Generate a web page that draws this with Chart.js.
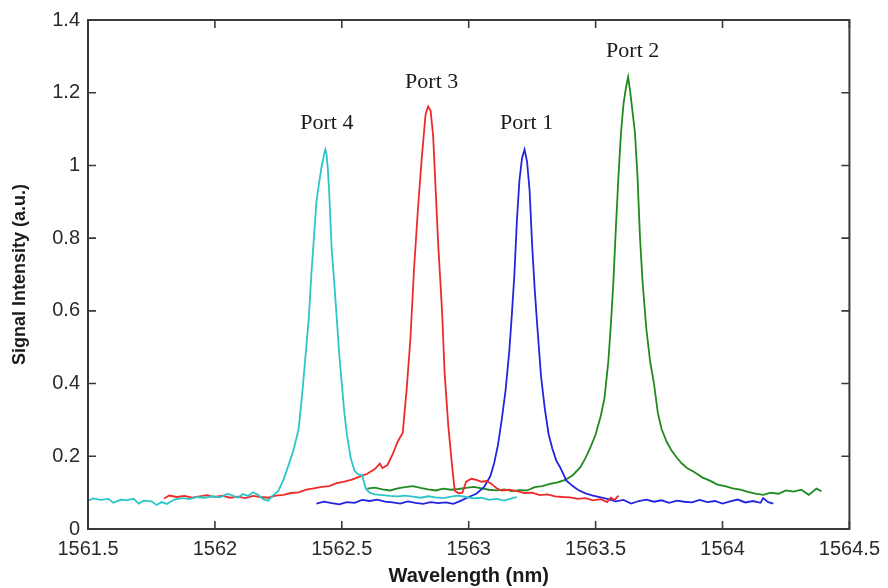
<!DOCTYPE html>
<html>
<head>
<meta charset="utf-8">
<script src="https://cdn.jsdelivr.net/npm/chart.js@4/dist/chart.umd.min.js"></script>
<style>
  html, body { margin: 0; padding: 0; background: #fff; }
  #wrap { width: 888px; height: 588px; }
</style>
</head>
<body>
<div id="wrap"><canvas id="chart" width="888" height="588"></canvas></div>
<script>
'use strict';

/* Tick values */
const xTicks = [1561.5, 1562, 1562.5, 1563, 1563.5, 1564, 1564.5];
const yTicks = [0, 0.2, 0.4, 0.6, 0.8, 1, 1.2, 1.4];

/* Port 4 (cyan) */
const port4X = [1561.50, 1561.52, 1561.55, 1561.58, 1561.60, 1561.63, 1561.65, 1561.68, 1561.70, 1561.72,
  1561.75, 1561.77, 1561.79, 1561.81, 1561.84, 1561.87, 1561.90, 1561.93, 1561.96, 1561.99,
  1562.02, 1562.05, 1562.07, 1562.09, 1562.11, 1562.13, 1562.15, 1562.17, 1562.19, 1562.21,
  1562.23, 1562.25, 1562.27, 1562.29, 1562.31, 1562.33, 1562.345, 1562.36, 1562.37, 1562.38,
  1562.39, 1562.40, 1562.41, 1562.42, 1562.43, 1562.435, 1562.44, 1562.445, 1562.45, 1562.46,
  1562.47, 1562.48, 1562.49, 1562.50, 1562.51, 1562.52, 1562.535, 1562.55, 1562.565, 1562.58,
  1562.595, 1562.61, 1562.63, 1562.66, 1562.69, 1562.72, 1562.75, 1562.78, 1562.81, 1562.84,
  1562.87, 1562.90, 1562.93, 1562.96, 1562.99, 1563.02, 1563.05, 1563.08, 1563.11, 1563.14,
  1563.17, 1563.19];
const port4Y = [0.078, 0.084, 0.080, 0.083, 0.072, 0.081, 0.079, 0.083, 0.070, 0.078,
  0.076, 0.066, 0.074, 0.069, 0.081, 0.085, 0.082, 0.088, 0.086, 0.090,
  0.087, 0.097, 0.092, 0.086, 0.096, 0.091, 0.101, 0.094, 0.082, 0.078,
  0.093, 0.105, 0.135, 0.175, 0.218, 0.275, 0.380, 0.500, 0.580, 0.700,
  0.800, 0.900, 0.950, 0.995, 1.030, 1.044, 1.030, 0.990, 0.930, 0.770,
  0.680, 0.580, 0.480, 0.400, 0.320, 0.260, 0.195, 0.160, 0.150, 0.148,
  0.110, 0.100, 0.095, 0.093, 0.091, 0.090, 0.092, 0.089, 0.086, 0.090,
  0.087, 0.085, 0.089, 0.092, 0.088, 0.084, 0.086, 0.080, 0.083, 0.078,
  0.084, 0.088];

/* Port 3 (red) */
const port3X = [1561.80, 1561.82, 1561.85, 1561.88, 1561.91, 1561.94, 1561.97, 1562.00, 1562.03, 1562.06,
  1562.09, 1562.12, 1562.15, 1562.18, 1562.21, 1562.24, 1562.27, 1562.30, 1562.33, 1562.36,
  1562.39, 1562.42, 1562.45, 1562.48, 1562.51, 1562.54, 1562.57, 1562.60, 1562.63, 1562.65,
  1562.66, 1562.68, 1562.70, 1562.72, 1562.74, 1562.755, 1562.77, 1562.785, 1562.80, 1562.815,
  1562.83, 1562.84, 1562.85, 1562.86, 1562.87, 1562.88, 1562.895, 1562.905, 1562.92, 1562.935,
  1562.945, 1562.96, 1562.975, 1562.99, 1563.01, 1563.03, 1563.05, 1563.07, 1563.09, 1563.11,
  1563.13, 1563.16, 1563.19, 1563.22, 1563.25, 1563.28, 1563.31, 1563.34, 1563.37, 1563.40,
  1563.43, 1563.46, 1563.49, 1563.52, 1563.545, 1563.56, 1563.575, 1563.59];
const port3Y = [0.084, 0.092, 0.088, 0.091, 0.086, 0.090, 0.093, 0.088, 0.092, 0.086,
  0.089, 0.085, 0.091, 0.088, 0.086, 0.092, 0.094, 0.099, 0.101, 0.108,
  0.112, 0.116, 0.118, 0.126, 0.130, 0.136, 0.144, 0.152, 0.165, 0.180,
  0.168, 0.176, 0.205, 0.240, 0.265, 0.380, 0.520, 0.720, 0.880, 1.020,
  1.140, 1.162, 1.150, 1.080, 0.930, 0.780, 0.600, 0.430, 0.280, 0.170,
  0.105, 0.098, 0.100, 0.130, 0.138, 0.135, 0.130, 0.132, 0.124, 0.112,
  0.106, 0.108, 0.104, 0.099, 0.100, 0.093, 0.095, 0.090, 0.088, 0.087,
  0.083, 0.085, 0.079, 0.082, 0.074, 0.086, 0.080, 0.092];

/* Port 1 (blue) */
const port1X = [1562.40, 1562.43, 1562.46, 1562.49, 1562.52, 1562.55, 1562.58, 1562.61, 1562.64, 1562.67,
  1562.70, 1562.73, 1562.76, 1562.79, 1562.82, 1562.85, 1562.88, 1562.91, 1562.94, 1562.97,
  1563.00, 1563.03, 1563.06, 1563.085, 1563.10, 1563.115, 1563.13, 1563.145, 1563.16, 1563.17,
  1563.18, 1563.19, 1563.20, 1563.21, 1563.22, 1563.23, 1563.24, 1563.25, 1563.26, 1563.27,
  1563.285, 1563.30, 1563.315, 1563.33, 1563.345, 1563.36, 1563.385, 1563.41, 1563.43, 1563.46,
  1563.49, 1563.52, 1563.55, 1563.58, 1563.61, 1563.64, 1563.67, 1563.70, 1563.73, 1563.76,
  1563.79, 1563.82, 1563.85, 1563.88, 1563.91, 1563.94, 1563.97, 1564.00, 1564.03, 1564.06,
  1564.09, 1564.12, 1564.15, 1564.16, 1564.18, 1564.20];
const port1Y = [0.070, 0.075, 0.071, 0.068, 0.074, 0.072, 0.080, 0.077, 0.081, 0.075,
  0.073, 0.070, 0.076, 0.072, 0.069, 0.074, 0.071, 0.073, 0.069, 0.078,
  0.088, 0.097, 0.115, 0.145, 0.180, 0.230, 0.300, 0.380, 0.490, 0.590,
  0.700, 0.850, 0.960, 1.020, 1.044, 1.010, 0.930, 0.780, 0.660, 0.560,
  0.420, 0.330, 0.260, 0.220, 0.188, 0.170, 0.133, 0.118, 0.108, 0.098,
  0.092, 0.087, 0.082, 0.076, 0.080, 0.070, 0.077, 0.081, 0.075, 0.079,
  0.072, 0.078, 0.075, 0.073, 0.080, 0.074, 0.077, 0.070, 0.076, 0.081,
  0.073, 0.077, 0.072, 0.085, 0.074, 0.070];

/* Port 2 (green) */
const port2X = [1562.60, 1562.63, 1562.66, 1562.69, 1562.72, 1562.75, 1562.78, 1562.81, 1562.84, 1562.87,
  1562.90, 1562.93, 1562.96, 1562.99, 1563.02, 1563.05, 1563.08, 1563.11, 1563.14, 1563.17,
  1563.20, 1563.23, 1563.26, 1563.29, 1563.32, 1563.35, 1563.38, 1563.41, 1563.44, 1563.46,
  1563.48, 1563.50, 1563.52, 1563.535, 1563.55, 1563.56, 1563.57, 1563.58, 1563.59, 1563.60,
  1563.61, 1563.62, 1563.628, 1563.636, 1563.645, 1563.655, 1563.665, 1563.675, 1563.685, 1563.70,
  1563.715, 1563.73, 1563.745, 1563.76, 1563.78, 1563.80, 1563.82, 1563.84, 1563.86, 1563.89,
  1563.92, 1563.95, 1563.98, 1564.01, 1564.04, 1564.07, 1564.10, 1564.13, 1564.16, 1564.19,
  1564.22, 1564.25, 1564.28, 1564.31, 1564.34, 1564.37, 1564.39];
const port2Y = [0.111, 0.114, 0.109, 0.106, 0.112, 0.115, 0.118, 0.113, 0.109, 0.106,
  0.111, 0.108, 0.110, 0.113, 0.116, 0.112, 0.108, 0.106, 0.109, 0.104,
  0.107, 0.106, 0.115, 0.118, 0.124, 0.128, 0.135, 0.148, 0.170, 0.195,
  0.225, 0.260, 0.310, 0.360, 0.460, 0.560, 0.680, 0.830, 0.970, 1.090,
  1.170, 1.215, 1.243, 1.205, 1.150, 1.090, 0.970, 0.800, 0.680, 0.550,
  0.460, 0.400, 0.320, 0.275, 0.240, 0.215, 0.196, 0.180, 0.168, 0.156,
  0.142, 0.133, 0.122, 0.118, 0.112, 0.108, 0.102, 0.097, 0.094, 0.100,
  0.097, 0.106, 0.103, 0.108, 0.094, 0.111, 0.104];

/* Peak annotations */
const labelText = ['Port 4', 'Port 3', 'Port 1', 'Port 2'];
const labelX = [1562.441, 1562.854, 1563.228, 1563.646];
const labelY = [1.117, 1.229, 1.117, 1.313];

const C_CYAN  = '#2cc6c9';
const C_RED   = '#ee2b2b';
const C_BLUE  = '#2424e0';
const C_GREEN = '#1f8a1f';
const C_AXIS  = '#3a3a3a';
const C_TEXT  = '#2a2a2a';

function toPoints(xs, ys) {
  return xs.map((x, i) => ({ x, y: ys[i] }));
}

function series(label, xs, ys, color) {
  return {
    label,
    data: toPoints(xs, ys),
    showLine: true,
    borderColor: color,
    backgroundColor: color,
    borderWidth: 1.8,
    pointRadius: 0,
    tension: 0,
  };
}

/* frame, inward ticks on all four sides, and the port labels */
const frameTicks = {
  id: 'frameTicks',
  afterDatasetsDraw(chart) {
    const { ctx, chartArea: a, scales: { x, y } } = chart;
    ctx.save();
    ctx.strokeStyle = C_AXIS;
    ctx.lineWidth = 2;
    ctx.strokeRect(a.left, a.top, a.width, a.height);

    ctx.lineWidth = 1.6;
    ctx.beginPath();
    xTicks.forEach(v => {
      const px = x.getPixelForValue(v);
      ctx.moveTo(px, a.bottom); ctx.lineTo(px, a.bottom - 8);
      ctx.moveTo(px, a.top);    ctx.lineTo(px, a.top + 8);
    });
    yTicks.forEach(v => {
      const py = y.getPixelForValue(v);
      ctx.moveTo(a.left, py);  ctx.lineTo(a.left + 8, py);
      ctx.moveTo(a.right, py); ctx.lineTo(a.right - 8, py);
    });
    ctx.stroke();

    ctx.fillStyle = '#1a1a1a';
    ctx.font = '22px "Liberation Serif", "Times New Roman", serif';
    ctx.textAlign = 'center';
    ctx.textBaseline = 'middle';
    labelText.forEach((t, i) => {
      ctx.fillText(t, x.getPixelForValue(labelX[i]), y.getPixelForValue(labelY[i]));
    });
    ctx.restore();
  },
};

const tickFont = { family: '"Liberation Sans", Arial, sans-serif', size: 20 };

new Chart(document.getElementById('chart').getContext('2d'), {
  type: 'scatter',
  data: {
    datasets: [
      series('Port 4', port4X, port4Y, C_CYAN),
      series('Port 3', port3X, port3Y, C_RED),
      series('Port 1', port1X, port1Y, C_BLUE),
      series('Port 2', port2X, port2Y, C_GREEN),
    ],
  },
  options: {
    responsive: false,
    animation: false,
    layout: { padding: { top: 14, right: 38, left: 0, bottom: 0 } },
    plugins: { legend: { display: false }, tooltip: { enabled: false } },
    scales: {
      x: {
        type: 'linear',
        min: 1561.5,
        max: 1564.5,
        afterBuildTicks: s => { s.ticks = xTicks.map(v => ({ value: v })); },
        afterFit: s => { s.height = 59; },
        grid: { display: false, drawTicks: false },
        border: { display: false },
        ticks: {
          color: C_TEXT,
          font: tickFont,
          padding: 8,
          maxRotation: 0,
          autoSkip: false,
          callback: v => String(Math.round(v * 10) / 10),
        },
        title: {
          display: true,
          text: 'Wavelength (nm)',
          color: '#1a1a1a',
          font: { family: '"Liberation Sans", Arial, sans-serif', size: 20, weight: 'bold' },
          padding: { top: 0, bottom: 0 },
        },
      },
      y: {
        type: 'linear',
        min: 0,
        max: 1.4,
        afterBuildTicks: s => { s.ticks = yTicks.map(v => ({ value: v })); },
        afterFit: s => { s.width = 88; },
        grid: { display: false, drawTicks: false },
        border: { display: false },
        ticks: {
          color: C_TEXT,
          font: tickFont,
          padding: 8,
          autoSkip: false,
          callback: v => String(Math.round(v * 10) / 10),
        },
        title: {
          display: true,
          text: 'Signal Intensity (a.u.)',
          color: '#1a1a1a',
          font: { family: '"Liberation Sans", Arial, sans-serif', size: 18, weight: 'bold' },
          padding: { top: 9, bottom: 0 },
        },
      },
    },
  },
  plugins: [frameTicks],
});
</script>
</body>
</html>
